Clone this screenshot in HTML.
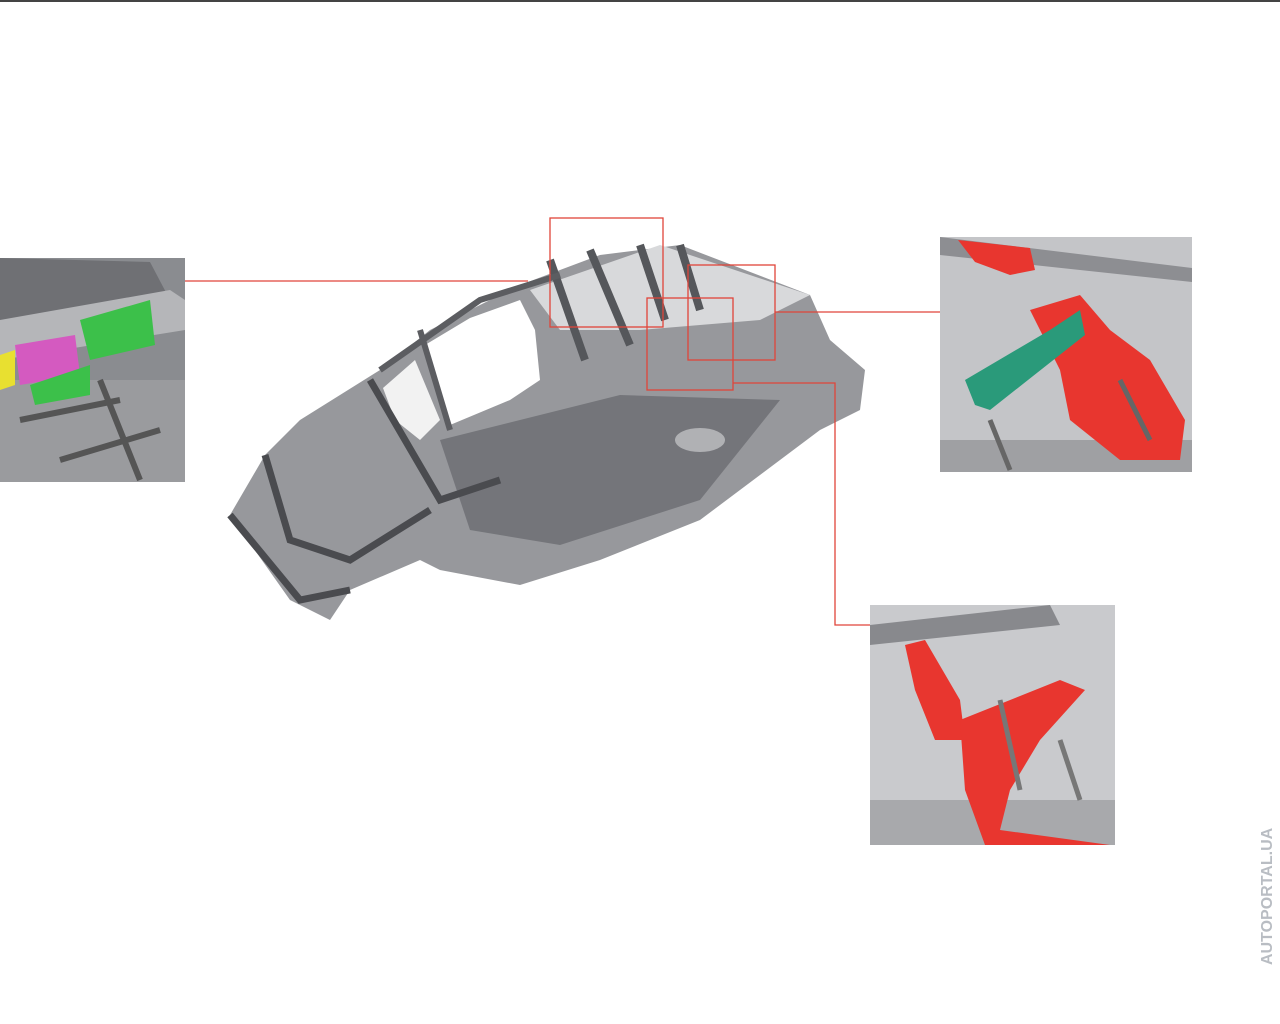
<!DOCTYPE html>
<html><head><meta charset="utf-8"><style>
html,body{margin:0;padding:0;background:#fff;width:1280px;height:1024px;overflow:hidden}
svg{display:block}
</style></head><body>
<svg width="1280" height="1024" viewBox="0 0 1280 1024" xmlns="http://www.w3.org/2000/svg">
<rect width="1280" height="1024" fill="#fff"/>
<line x1="0" y1="1" x2="1280" y2="1" stroke="#444" stroke-width="2"/>

<!-- left inset -->
<rect x="0" y="258" width="185" height="224" fill="#8a8c90"/>
<polygon points="0,258 150,262 170,300 0,340" fill="#6f7074"/>
<polygon points="0,320 170,290 185,300 185,330 0,360" fill="#b5b6b9"/>
<rect x="0" y="380" width="185" height="102" fill="#9a9b9e"/>
<polygon points="80,320 150,300 155,345 90,360" fill="#3cc04a"/>
<polygon points="15,345 75,335 80,375 20,385" fill="#d45ac0"/>
<polygon points="0,355 15,350 15,385 0,390" fill="#e8e030"/>
<polygon points="30,385 90,365 90,395 35,405" fill="#3cc04a"/>
<path d="M20 420 L120 400 M60 460 L160 430 M100 380 L140 480" stroke="#555" stroke-width="6" fill="none"/>

<!-- car body -->
<polygon points="230,515 265,455 300,420 340,395 380,370 430,330 520,285 600,255 680,245 810,295 830,340 865,370 860,410 820,430 700,520 600,560 520,585 440,570 420,560 350,590 330,620 290,600" fill="#97989c"/>
<!-- window openings -->
<polygon points="425,345 470,318 520,300 535,330 540,380 510,400 450,425" fill="#fff"/>
<polygon points="383,388 415,360 440,420 420,440 395,420" fill="#f2f2f2"/>
<polygon points="530,290 660,245 810,295 760,320 640,330 560,330" fill="#d8d9db"/>
<path d="M550 260 L585 360 M590 250 L630 345 M640 245 L665 320 M680 245 L700 310" stroke="#55575b" stroke-width="8" fill="none"/>
<polygon points="440,440 620,395 780,400 700,500 560,545 470,530" fill="#74757a"/>
<path d="M230 515 L300 600 L350 590 M265 455 L290 540 L350 560 L430 510 M370 380 L440 500 L500 480" stroke="#4a4b4f" stroke-width="7" fill="none"/>
<path d="M380 370 L480 300 L560 275 M420 330 L450 430" stroke="#5c5d61" stroke-width="6" fill="none"/>
<ellipse cx="700" cy="440" rx="25" ry="12" fill="#b0b1b4"/>

<!-- red connectors & boxes -->
<g stroke="#e0453a" stroke-width="1.3" fill="none">
<line x1="185" y1="281" x2="528" y2="281"/>
<rect x="550" y="218" width="113" height="109"/>
<rect x="647" y="298" width="86" height="92"/>
<rect x="688" y="265" width="87" height="95"/>
<line x1="775" y1="312" x2="940" y2="312"/>
<polyline points="733,383 835,383 835,625 870,625"/>
</g>

<!-- top-right inset -->
<rect x="940" y="237" width="252" height="235" fill="#c4c5c8"/>
<polygon points="940,237 1192,268 1192,282 940,255" fill="#8d8e92"/>
<rect x="940" y="440" width="252" height="32" fill="#9fa0a3"/>
<polygon points="958,240 1030,248 1035,270 1010,275 975,262" fill="#e8362f"/>
<polygon points="1030,310 1080,295 1110,330 1150,360 1185,420 1180,460 1120,460 1070,420 1060,370" fill="#e8362f"/>
<polygon points="965,380 1050,330 1080,310 1085,335 990,410 975,405" fill="#2a9a7a"/>
<path d="M990 420 L1010 470 M1120 380 L1150 440" stroke="#666" stroke-width="5" fill="none"/>

<!-- bottom-right inset -->
<rect x="870" y="605" width="245" height="240" fill="#c9cacd"/>
<polygon points="870,625 1050,605 1060,625 870,645" fill="#88898d"/>
<rect x="870" y="800" width="245" height="45" fill="#a8a9ac"/>
<polygon points="905,645 925,640 960,700 965,740 935,740 915,690" fill="#e8362f"/>
<polygon points="960,720 1060,680 1085,690 1040,740 1010,790 1000,830 1110,845 985,845 965,790" fill="#e8362f"/>
<path d="M1000 700 L1020 790 M1060 740 L1080 800" stroke="#777" stroke-width="5" fill="none"/>

<!-- watermark -->
<text x="1272" y="965" transform="rotate(-90 1272 965)" font-family="Liberation Sans, sans-serif" font-size="16" font-weight="bold" fill="#b9bdc3">AUTOPORTAL.UA</text>
</svg>
</body></html>
